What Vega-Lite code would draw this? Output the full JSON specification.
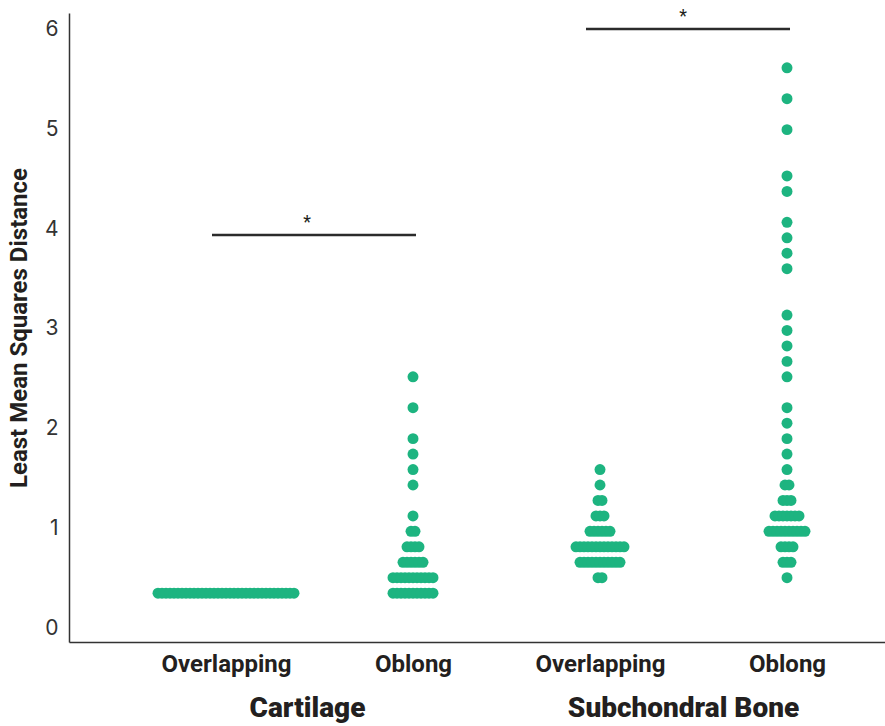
{
  "$schema": "https://vega.github.io/schema/vega-lite/v6.json",
  "width": 816,
  "height": 629,
  "autosize": {"type": "none"},
  "padding": {"left": 69, "top": 13, "right": 0, "bottom": 84},
  "background": "white",
  "config": {
    "view": {"stroke": null},
    "axis": {"grid": false, "ticks": false},
    "axisY": {"labelFont": "Inter", "labelFontSize": 21, "labelColor": "#333333", "labelPadding": 11, "domainColor": "#333333", "domainWidth": 1.5, "titleFont": "Roboto", "titleFontWeight": "bold", "titleFontSize": 24, "titleColor": "#231f20", "titlePadding": 13}
  },
  "datasets": {
    "dots": [
      {"c": "Cartilage|Overlapping", "v": 0.35, "k": -17}, {"c": "Cartilage|Overlapping", "v": 0.35, "k": -16}, {"c": "Cartilage|Overlapping", "v": 0.35, "k": -15}, {"c": "Cartilage|Overlapping", "v": 0.35, "k": -14}, {"c": "Cartilage|Overlapping", "v": 0.35, "k": -13}, {"c": "Cartilage|Overlapping", "v": 0.35, "k": -12}, {"c": "Cartilage|Overlapping", "v": 0.35, "k": -11}, {"c": "Cartilage|Overlapping", "v": 0.35, "k": -10}, {"c": "Cartilage|Overlapping", "v": 0.35, "k": -9}, {"c": "Cartilage|Overlapping", "v": 0.35, "k": -8}, {"c": "Cartilage|Overlapping", "v": 0.35, "k": -7}, {"c": "Cartilage|Overlapping", "v": 0.35, "k": -6}, {"c": "Cartilage|Overlapping", "v": 0.35, "k": -5}, {"c": "Cartilage|Overlapping", "v": 0.35, "k": -4}, {"c": "Cartilage|Overlapping", "v": 0.35, "k": -3}, {"c": "Cartilage|Overlapping", "v": 0.35, "k": -2}, {"c": "Cartilage|Overlapping", "v": 0.35, "k": -1}, {"c": "Cartilage|Overlapping", "v": 0.35, "k": 0}, {"c": "Cartilage|Overlapping", "v": 0.35, "k": 1}, {"c": "Cartilage|Overlapping", "v": 0.35, "k": 2}, {"c": "Cartilage|Overlapping", "v": 0.35, "k": 3}, {"c": "Cartilage|Overlapping", "v": 0.35, "k": 4}, {"c": "Cartilage|Overlapping", "v": 0.35, "k": 5}, {"c": "Cartilage|Overlapping", "v": 0.35, "k": 6}, {"c": "Cartilage|Overlapping", "v": 0.35, "k": 7}, {"c": "Cartilage|Overlapping", "v": 0.35, "k": 8}, {"c": "Cartilage|Overlapping", "v": 0.35, "k": 9}, {"c": "Cartilage|Overlapping", "v": 0.35, "k": 10}, {"c": "Cartilage|Overlapping", "v": 0.35, "k": 11}, {"c": "Cartilage|Overlapping", "v": 0.35, "k": 12}, {"c": "Cartilage|Overlapping", "v": 0.35, "k": 13}, {"c": "Cartilage|Overlapping", "v": 0.35, "k": 14}, {"c": "Cartilage|Overlapping", "v": 0.35, "k": 15}, {"c": "Cartilage|Overlapping", "v": 0.35, "k": 16}, {"c": "Cartilage|Overlapping", "v": 0.35, "k": 17},

      {"c": "Cartilage|Oblong", "v": 0.35, "k": -5}, {"c": "Cartilage|Oblong", "v": 0.35, "k": -4}, {"c": "Cartilage|Oblong", "v": 0.35, "k": -3}, {"c": "Cartilage|Oblong", "v": 0.35, "k": -2}, {"c": "Cartilage|Oblong", "v": 0.35, "k": -1}, {"c": "Cartilage|Oblong", "v": 0.35, "k": 0}, {"c": "Cartilage|Oblong", "v": 0.35, "k": 1}, {"c": "Cartilage|Oblong", "v": 0.35, "k": 2}, {"c": "Cartilage|Oblong", "v": 0.35, "k": 3}, {"c": "Cartilage|Oblong", "v": 0.35, "k": 4}, {"c": "Cartilage|Oblong", "v": 0.35, "k": 5},
      {"c": "Cartilage|Oblong", "v": 0.505, "k": -5}, {"c": "Cartilage|Oblong", "v": 0.505, "k": -4}, {"c": "Cartilage|Oblong", "v": 0.505, "k": -3}, {"c": "Cartilage|Oblong", "v": 0.505, "k": -2}, {"c": "Cartilage|Oblong", "v": 0.505, "k": -1}, {"c": "Cartilage|Oblong", "v": 0.505, "k": 0}, {"c": "Cartilage|Oblong", "v": 0.505, "k": 1}, {"c": "Cartilage|Oblong", "v": 0.505, "k": 2}, {"c": "Cartilage|Oblong", "v": 0.505, "k": 3}, {"c": "Cartilage|Oblong", "v": 0.505, "k": 4}, {"c": "Cartilage|Oblong", "v": 0.505, "k": 5},
      {"c": "Cartilage|Oblong", "v": 0.66, "k": -2.5}, {"c": "Cartilage|Oblong", "v": 0.66, "k": -1.5}, {"c": "Cartilage|Oblong", "v": 0.66, "k": -0.5}, {"c": "Cartilage|Oblong", "v": 0.66, "k": 0.5}, {"c": "Cartilage|Oblong", "v": 0.66, "k": 1.5}, {"c": "Cartilage|Oblong", "v": 0.66, "k": 2.5},
      {"c": "Cartilage|Oblong", "v": 0.815, "k": -1.5}, {"c": "Cartilage|Oblong", "v": 0.815, "k": -0.5}, {"c": "Cartilage|Oblong", "v": 0.815, "k": 0.5}, {"c": "Cartilage|Oblong", "v": 0.815, "k": 1.5},
      {"c": "Cartilage|Oblong", "v": 0.97, "k": -0.5}, {"c": "Cartilage|Oblong", "v": 0.97, "k": 0.5},
      {"c": "Cartilage|Oblong", "v": 1.125, "k": 0}, {"c": "Cartilage|Oblong", "v": 1.435, "k": 0}, {"c": "Cartilage|Oblong", "v": 1.59, "k": 0}, {"c": "Cartilage|Oblong", "v": 1.745, "k": 0}, {"c": "Cartilage|Oblong", "v": 1.9, "k": 0}, {"c": "Cartilage|Oblong", "v": 2.21, "k": 0}, {"c": "Cartilage|Oblong", "v": 2.52, "k": 0},

      {"c": "Subchondral Bone|Overlapping", "v": 0.505, "k": -0.5}, {"c": "Subchondral Bone|Overlapping", "v": 0.505, "k": 0.5},
      {"c": "Subchondral Bone|Overlapping", "v": 0.66, "k": -5}, {"c": "Subchondral Bone|Overlapping", "v": 0.66, "k": -4}, {"c": "Subchondral Bone|Overlapping", "v": 0.66, "k": -3}, {"c": "Subchondral Bone|Overlapping", "v": 0.66, "k": -2}, {"c": "Subchondral Bone|Overlapping", "v": 0.66, "k": -1}, {"c": "Subchondral Bone|Overlapping", "v": 0.66, "k": 0}, {"c": "Subchondral Bone|Overlapping", "v": 0.66, "k": 1}, {"c": "Subchondral Bone|Overlapping", "v": 0.66, "k": 2}, {"c": "Subchondral Bone|Overlapping", "v": 0.66, "k": 3}, {"c": "Subchondral Bone|Overlapping", "v": 0.66, "k": 4}, {"c": "Subchondral Bone|Overlapping", "v": 0.66, "k": 5},
      {"c": "Subchondral Bone|Overlapping", "v": 0.815, "k": -6}, {"c": "Subchondral Bone|Overlapping", "v": 0.815, "k": -5}, {"c": "Subchondral Bone|Overlapping", "v": 0.815, "k": -4}, {"c": "Subchondral Bone|Overlapping", "v": 0.815, "k": -3}, {"c": "Subchondral Bone|Overlapping", "v": 0.815, "k": -2}, {"c": "Subchondral Bone|Overlapping", "v": 0.815, "k": -1}, {"c": "Subchondral Bone|Overlapping", "v": 0.815, "k": 0}, {"c": "Subchondral Bone|Overlapping", "v": 0.815, "k": 1}, {"c": "Subchondral Bone|Overlapping", "v": 0.815, "k": 2}, {"c": "Subchondral Bone|Overlapping", "v": 0.815, "k": 3}, {"c": "Subchondral Bone|Overlapping", "v": 0.815, "k": 4}, {"c": "Subchondral Bone|Overlapping", "v": 0.815, "k": 5}, {"c": "Subchondral Bone|Overlapping", "v": 0.815, "k": 6},
      {"c": "Subchondral Bone|Overlapping", "v": 0.97, "k": -2.5}, {"c": "Subchondral Bone|Overlapping", "v": 0.97, "k": -1.5}, {"c": "Subchondral Bone|Overlapping", "v": 0.97, "k": -0.5}, {"c": "Subchondral Bone|Overlapping", "v": 0.97, "k": 0.5}, {"c": "Subchondral Bone|Overlapping", "v": 0.97, "k": 1.5}, {"c": "Subchondral Bone|Overlapping", "v": 0.97, "k": 2.5},
      {"c": "Subchondral Bone|Overlapping", "v": 1.125, "k": -1}, {"c": "Subchondral Bone|Overlapping", "v": 1.125, "k": 0}, {"c": "Subchondral Bone|Overlapping", "v": 1.125, "k": 1},
      {"c": "Subchondral Bone|Overlapping", "v": 1.28, "k": -0.5}, {"c": "Subchondral Bone|Overlapping", "v": 1.28, "k": 0.5},
      {"c": "Subchondral Bone|Overlapping", "v": 1.435, "k": 0}, {"c": "Subchondral Bone|Overlapping", "v": 1.59, "k": 0},

      {"c": "Subchondral Bone|Oblong", "v": 0.505, "k": 0},
      {"c": "Subchondral Bone|Oblong", "v": 0.66, "k": -1}, {"c": "Subchondral Bone|Oblong", "v": 0.66, "k": 0}, {"c": "Subchondral Bone|Oblong", "v": 0.66, "k": 1},
      {"c": "Subchondral Bone|Oblong", "v": 0.815, "k": -1.5}, {"c": "Subchondral Bone|Oblong", "v": 0.815, "k": -0.5}, {"c": "Subchondral Bone|Oblong", "v": 0.815, "k": 0.5}, {"c": "Subchondral Bone|Oblong", "v": 0.815, "k": 1.5},
      {"c": "Subchondral Bone|Oblong", "v": 0.97, "k": -4.5}, {"c": "Subchondral Bone|Oblong", "v": 0.97, "k": -3.5}, {"c": "Subchondral Bone|Oblong", "v": 0.97, "k": -2.5}, {"c": "Subchondral Bone|Oblong", "v": 0.97, "k": -1.5}, {"c": "Subchondral Bone|Oblong", "v": 0.97, "k": -0.5}, {"c": "Subchondral Bone|Oblong", "v": 0.97, "k": 0.5}, {"c": "Subchondral Bone|Oblong", "v": 0.97, "k": 1.5}, {"c": "Subchondral Bone|Oblong", "v": 0.97, "k": 2.5}, {"c": "Subchondral Bone|Oblong", "v": 0.97, "k": 3.5}, {"c": "Subchondral Bone|Oblong", "v": 0.97, "k": 4.5},
      {"c": "Subchondral Bone|Oblong", "v": 1.125, "k": -3}, {"c": "Subchondral Bone|Oblong", "v": 1.125, "k": -2}, {"c": "Subchondral Bone|Oblong", "v": 1.125, "k": -1}, {"c": "Subchondral Bone|Oblong", "v": 1.125, "k": 0}, {"c": "Subchondral Bone|Oblong", "v": 1.125, "k": 1}, {"c": "Subchondral Bone|Oblong", "v": 1.125, "k": 2}, {"c": "Subchondral Bone|Oblong", "v": 1.125, "k": 3},
      {"c": "Subchondral Bone|Oblong", "v": 1.28, "k": -1}, {"c": "Subchondral Bone|Oblong", "v": 1.28, "k": 0}, {"c": "Subchondral Bone|Oblong", "v": 1.28, "k": 1},
      {"c": "Subchondral Bone|Oblong", "v": 1.435, "k": -0.5}, {"c": "Subchondral Bone|Oblong", "v": 1.435, "k": 0.5},
      {"c": "Subchondral Bone|Oblong", "v": 1.59, "k": 0}, {"c": "Subchondral Bone|Oblong", "v": 1.745, "k": 0}, {"c": "Subchondral Bone|Oblong", "v": 1.9, "k": 0}, {"c": "Subchondral Bone|Oblong", "v": 2.055, "k": 0}, {"c": "Subchondral Bone|Oblong", "v": 2.21, "k": 0}, {"c": "Subchondral Bone|Oblong", "v": 2.52, "k": 0}, {"c": "Subchondral Bone|Oblong", "v": 2.675, "k": 0}, {"c": "Subchondral Bone|Oblong", "v": 2.83, "k": 0}, {"c": "Subchondral Bone|Oblong", "v": 2.985, "k": 0}, {"c": "Subchondral Bone|Oblong", "v": 3.14, "k": 0}, {"c": "Subchondral Bone|Oblong", "v": 3.605, "k": 0}, {"c": "Subchondral Bone|Oblong", "v": 3.76, "k": 0}, {"c": "Subchondral Bone|Oblong", "v": 3.915, "k": 0}, {"c": "Subchondral Bone|Oblong", "v": 4.07, "k": 0}, {"c": "Subchondral Bone|Oblong", "v": 4.38, "k": 0}, {"c": "Subchondral Bone|Oblong", "v": 4.535, "k": 0}, {"c": "Subchondral Bone|Oblong", "v": 5.0, "k": 0}, {"c": "Subchondral Bone|Oblong", "v": 5.31, "k": 0}, {"c": "Subchondral Bone|Oblong", "v": 5.62, "k": 0}
    ],
    "sig": [
      {"from": "Cartilage|Overlapping", "to": "Cartilage|Oblong", "v": 3.943},
      {"from": "Subchondral Bone|Overlapping", "to": "Subchondral Bone|Oblong", "v": 6.01}
    ],
    "groups": [
      {"tissue": "Cartilage", "v": 3.943, "star": "*"},
      {"tissue": "Subchondral Bone", "v": 6.01, "star": "*"}
    ]
  },
  "resolve": {"scale": {"x": "independent"}, "axis": {"x": "independent"}},
  "layer": [
    {
      "data": {"name": "dots"},
      "mark": {"type": "circle", "size": 120, "opacity": 1, "color": "#1db480"},
      "encoding": {
        "x": {
          "field": "c", "type": "nominal",
          "scale": {"type": "point", "domain": ["Cartilage|Overlapping", "Cartilage|Oblong", "Subchondral Bone|Overlapping", "Subchondral Bone|Oblong"], "padding": 0.6818, "align": 0.6157},
          "axis": {"title": null, "orient": "bottom", "labelAngle": 0, "labelExpr": "split(datum.label, '|')[1]", "labelFont": "Roboto", "labelFontWeight": "bold", "labelFontSize": 24, "labelColor": "#231f20", "labelPadding": 10, "labelLimit": 0, "domainColor": "#333333", "domainWidth": 1.5}
        },
        "xOffset": {"field": "k", "type": "quantitative", "scale": {"domain": [-20, 20], "range": [-80, 80]}},
        "y": {"field": "v", "type": "quantitative", "title": "Least Mean Squares Distance", "scale": {"domain": [-0.14, 6.17], "nice": false, "zero": false}, "axis": {"values": [0, 1, 2, 3, 4, 5, 6], "format": "d"}}
      }
    },
    {
      "data": {"name": "sig"},
      "mark": {"type": "rule", "color": "#2b2b2b", "strokeWidth": 2.5, "xOffset": -14, "x2Offset": 3},
      "encoding": {
        "x": {"field": "from", "type": "nominal", "scale": {"type": "point", "domain": ["Cartilage|Overlapping", "Cartilage|Oblong", "Subchondral Bone|Overlapping", "Subchondral Bone|Oblong"], "padding": 0.6818, "align": 0.6157}, "axis": null},
        "x2": {"field": "to"},
        "y": {"field": "v", "type": "quantitative", "title": "Least Mean Squares Distance"}
      }
    },
    {
      "data": {"name": "groups"},
      "mark": {"type": "text", "font": "Roboto", "fontSize": 18, "color": "#231f20", "baseline": "alphabetic", "dy": -7},
      "encoding": {
        "x": {"field": "tissue", "type": "nominal", "scale": {"type": "point", "domain": ["Cartilage", "Subchondral Bone"], "padding": 0.585, "align": 0.541},
          "axis": {"title": null, "orient": "bottom", "labelAngle": 0, "domain": false, "labelFont": "Roboto", "labelFontWeight": 900, "labelFontSize": 28, "labelColor": "#231f20", "labelPadding": 52, "labelLimit": 0, "labelOverlap": false}},
        "y": {"field": "v", "type": "quantitative", "title": "Least Mean Squares Distance"},
        "text": {"field": "star"}
      }
    }
  ]
}
